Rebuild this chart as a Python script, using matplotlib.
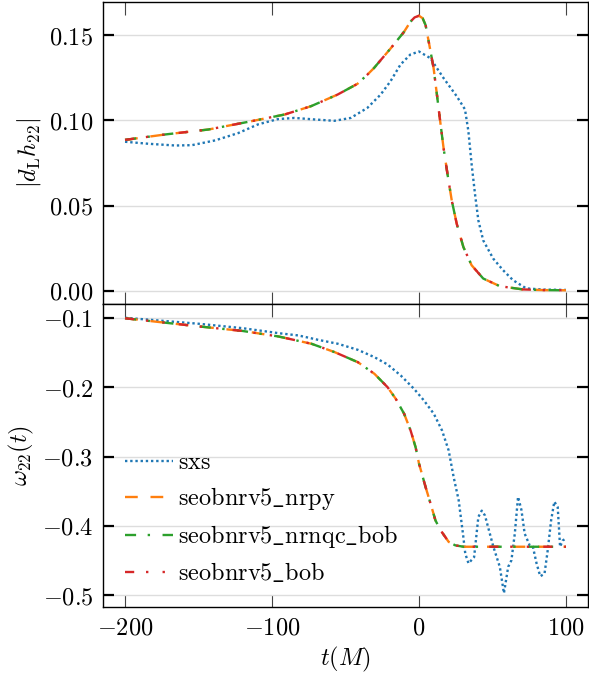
import numpy as np
import matplotlib
matplotlib.use('Agg')
import matplotlib.pyplot as plt
from matplotlib.ticker import FuncFormatter

plt.rcParams['mathtext.fontset'] = 'cm'
plt.rcParams['font.family'] = 'serif'
plt.rcParams['font.serif'] = ['DejaVu Serif']

# amplitude |d_L h_22|
t_sxs_amp = [-200, -183.8, -165.8, -154.5, -138.7, -123, -109.5, -96, -84.7, -71.2,
             -57.6, -46.4, -35.1, -26.1, -19.4, -12.6, -5.9, 0, 7.7, 16.7, 25.7,
             31.3, 33.6, 35.8, 38.1, 40.4, 43.7, 50.5, 57.2, 64, 73, 85, 100]
sxs_amp = [0.0875, 0.0863, 0.0853, 0.0855, 0.0883, 0.0926, 0.0977, 0.1008, 0.1015, 0.1006,
           0.0998, 0.1015, 0.1074, 0.1152, 0.1230, 0.1328, 0.1387, 0.1405, 0.1366, 0.1249, 0.1142,
           0.1065, 0.0938, 0.0744, 0.0569, 0.0413, 0.0296, 0.0189, 0.0121, 0.0062, 0.0014, 0.0007, 0.0005]

t_seob_amp = [-200, -172.5, -143.2, -116.2, -91.4, -73.4, -55.4, -41.9, -35, -30.6, -19.2,
              -10.2, -5.8, -3, 0, 2.5, 4.5, 6.6, 9.9, 12.2, 14.4, 16.7, 19.4, 22.3, 25.7,
              30.2, 35.8, 43.7, 55, 70.7, 85, 100]
seob_amp = [0.0886, 0.0918, 0.0947, 0.0992, 0.1035, 0.1084, 0.1152, 0.1215, 0.1270, 0.1308, 0.1424,
            0.1520, 0.1580, 0.1605, 0.1615, 0.1600, 0.1560, 0.1464, 0.1310, 0.1152, 0.0997, 0.0840,
            0.0685, 0.0530, 0.0393, 0.0257, 0.0150, 0.0072, 0.0027, 0.0008, 0.0004, 0.0003]

# frequency omega_22
t_sxs_om = [-200, -150, -120, -95.5, -82, -68.6, -55.1, -41.6, -30.3, -21.4, -12.4, -3.4,
            3.4, 10.1, 15.7, 20.2, 23.6, 27, 29.9, 31.5, 33.7, 37.5, 40.4, 42.7, 44.9, 50.6,
            55, 57.8, 60.7, 62.9, 65.2, 67.4, 69.7, 71.9, 75.3, 77.5, 80, 82.5, 85.4, 87.6,
            89.9, 92.1, 94.4, 96, 97.8, 100]
sxs_om = [-0.100, -0.1086, -0.1150, -0.1222, -0.1255, -0.1318, -0.1375, -0.1462, -0.1568,
          -0.1673, -0.1832, -0.2024, -0.2193, -0.2384, -0.2625, -0.2913, -0.3298, -0.363,
          -0.411, -0.440, -0.454, -0.445, -0.387, -0.378, -0.385, -0.430, -0.459, -0.497,
          -0.459, -0.4495, -0.411, -0.358, -0.377, -0.411, -0.428, -0.430, -0.454, -0.4725,
          -0.469, -0.435, -0.392, -0.365, -0.373, -0.430, -0.421, -0.418]

t_seob_om = [-200, -150, -120, -95.5, -73.1, -57.3, -41.6, -30.3, -21.4, -15.8, -10.1, -5.7,
             -2.3, 0, 4.5, 7.9, 11.2, 14.6, 20.2, 24.7, 30.3, 50, 75, 100]
seob_om = [-0.1007, -0.1124, -0.1190, -0.127, -0.1375, -0.1496, -0.164, -0.1808, -0.200,
           -0.2168, -0.2384, -0.2625, -0.2866, -0.310, -0.344, -0.368, -0.392, -0.406, -0.423,
           -0.428, -0.430, -0.430, -0.430, -0.430]

labels = [r'$\mathrm{sxs}$', r'$\mathrm{seobnrv5\_nrpy}$',
          r'$\mathrm{seobnrv5\_nrnqc\_bob}$', r'$\mathrm{seobnrv5\_bob}$']
colors = ['C0', 'C1', 'C2', 'C3']
styles = [(0, (1, 1.2)), (0, (5.4, 5.4)), (0, (4.7, 4.9, 1, 5.3)),
          (0, (3.9, 5, 1, 6, 1, 6))]
lw = 1.7

fs = 17.5
fig = plt.figure(figsize=(5.89, 6.77), dpi=100)
ax1 = fig.add_axes([103 / 589, 1 - 304 / 677, 485 / 589, 302 / 677])
ax2 = fig.add_axes([103 / 589, 1 - 607 / 677, 485 / 589, 303 / 677], sharex=ax1)

ax1.plot(t_sxs_amp, sxs_amp, color=colors[0], linestyle=styles[0], lw=lw, label=labels[0])
for i in range(1, 4):
    ax1.plot(t_seob_amp, seob_amp, color=colors[i], linestyle=styles[i], lw=lw, label=labels[i])

ax2.plot(t_sxs_om, sxs_om, color=colors[0], linestyle=styles[0], lw=lw, label=labels[0])
for i in range(1, 4):
    ax2.plot(t_seob_om, seob_om, color=colors[i], linestyle=styles[i], lw=lw, label=labels[i])

ax1.set_yticks([0.0, 0.05, 0.10, 0.15])
ax2.set_yticks([-0.1, -0.2, -0.3, -0.4, -0.5])
ax2.set_xticks([-200, -100, 0, 100])

ax1.yaxis.set_major_formatter(FuncFormatter(lambda v, p: '$%.2f$' % v))
ax2.yaxis.set_major_formatter(FuncFormatter(lambda v, p: '$%.1f$' % v))
ax2.xaxis.set_major_formatter(FuncFormatter(lambda v, p: '$%d$' % v))

for ax in (ax1, ax2):
    ax.grid(axis='y', color='#dddddd', lw=1)
    ax.set_axisbelow(True)
    ax.tick_params(axis='x', direction='in', top=True, bottom=True, length=9,
                   width=0.8, color='#444444', labelsize=fs, pad=7)
    ax.tick_params(axis='y', direction='in', left=True, right=True, length=8,
                   width=1.6, color='black', labelsize=fs, pad=7)
    for s in ax.spines.values():
        s.set_linewidth(1.0)
plt.setp(ax1.get_xticklabels(), visible=False)

ax1.set_ylabel(r'$|d_{\rm L} h_{22}|$', fontsize=fs)
ax2.set_ylabel(r'$\omega_{22}(t)$', fontsize=fs)
ax2.set_xlabel(r'$t(M)$', fontsize=fs)

ax2.legend(loc='lower left', frameon=False, fontsize=fs, handlelength=2.0,
           handletextpad=0.2, labelspacing=0.45)

fig.savefig('out.png', dpi=100)
